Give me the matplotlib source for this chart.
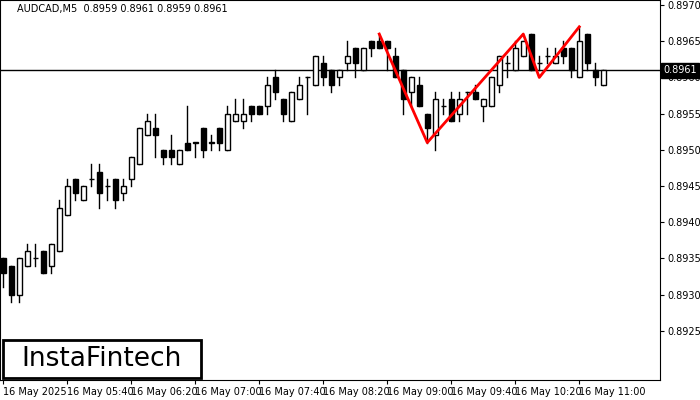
import matplotlib
matplotlib.use("Agg")
import matplotlib.pyplot as plt
from matplotlib.patches import Rectangle

# AUDCAD M5 candles, 16 May 2025 05:00 .. 11:15
opens = [.8935, .8934, .8930, .8934, .8935, .8936, .8934, .8936, .8941, .8946,
         .8943, .8946, .8947, .8945, .8946, .8944, .8946, .8948, .8952, .8953,
         .8950, .8950, .8948, .8951, .8951, .8953, .8951, .8953, .8950, .8954,
         .8954, .8956, .8956, .8956, .8960, .8957, .8954, .8957, .8960, .8959,
         .8962, .8961, .8960, .8962, .8964, .8961, .8965, .8965, .8965, .8963,
         .8961, .8958, .8959, .8955, .8952, .8956, .8957, .8955, .8958, .8958,
         .8956, .8956, .8959, .8962, .8961, .8963, .8966, .8962, .8963, .8962,
         .8964, .8964, .8960, .8966, .8961, .8959]
highs = [.8935, .8934, .8935, .8937, .8937, .8936, .8937, .8943, .8946, .8946,
         .8945, .8948, .8948, .8946, .8946, .8946, .8949, .8953, .8955, .8955,
         .8950, .8952, .8950, .8956, .8951, .8953, .8952, .8953, .8956, .8957,
         .8957, .8956, .8956, .8960, .8961, .8957, .8958, .8960, .8960, .8963,
         .8963, .8961, .8961, .8965, .8964, .8964, .8965, .8966, .8965, .8964,
         .8961, .8960, .8960, .8955, .8958, .8957, .8958, .8958, .8958, .8959,
         .8957, .8960, .8963, .8963, .8965, .8965, .8966, .8963, .8964, .8964,
         .8965, .8964, .8967, .8966, .8962, .8961]
lows = [.8931, .8929, .8929, .8934, .8934, .8933, .8933, .8936, .8941, .8943,
        .8943, .8945, .8942, .8943, .8942, .8943, .8945, .8948, .8952, .8949,
        .8948, .8948, .8948, .8950, .8949, .8949, .8950, .8950, .8950, .8954,
        .8953, .8954, .8955, .8955, .8957, .8954, .8954, .8957, .8955, .8959,
        .8959, .8958, .8959, .8961, .8960, .8961, .8963, .8964, .8961, .8960,
        .8955, .8956, .8956, .8951, .8950, .8955, .8954, .8954, .8955, .8957,
        .8954, .8956, .8958, .8960, .8961, .8963, .8961, .8961, .8962, .8962,
        .8962, .8960, .8960, .8961, .8959, .8959]
closes = [.8933, .8930, .8935, .8936, .8935, .8933, .8937, .8942, .8945, .8944,
          .8945, .8946, .8944, .8945, .8943, .8945, .8949, .8953, .8954, .8952,
          .8949, .8949, .8950, .8950, .8951, .8950, .8951, .8951, .8955, .8955,
          .8955, .8955, .8955, .8959, .8958, .8955, .8958, .8959, .8960, .8963,
          .8960, .8959, .8961, .8963, .8962, .8964, .8964, .8964, .8964, .8960,
          .8957, .8960, .8956, .8953, .8957, .8956, .8954, .8957, .8958, .8957,
          .8957, .8960, .8963, .8962, .8964, .8965, .8961, .8962, .8963, .8963,
          .8963, .8961, .8965, .8962, .8960, .8961]

# pattern line (bar index, price)
pattern_idx = [47, 53, 65, 67, 72]
pattern_px = [.8966, .8951, .8966, .8960, .8967]

tick_idx = [0, 8, 16, 24, 32, 40, 48, 56, 64, 72]
tick_labels = ["16 May 2025", "16 May 05:40", "16 May 06:20", "16 May 07:00",
               "16 May 07:40", "16 May 08:20", "16 May 09:00", "16 May 09:40",
               "16 May 10:20", "16 May 11:00"]
yticks = [.8925, .8930, .8935, .8940, .8945, .8950, .8955, .8960, .8965, .8970]
current = .8961

fig = plt.figure(figsize=(7, 4), dpi=100)
ax = fig.add_axes([0.0, 0.05, 0.943, 0.95])

w = 0.6
for i, (o, h, l, c) in enumerate(zip(opens, highs, lows, closes)):
    ax.plot([i, i], [l, h], color="black", lw=1, zorder=2)
    bottom = min(o, c)
    height = max(abs(c - o), 0.000003)
    face = "white" if c >= o else "black"
    ax.add_patch(Rectangle((i - w / 2, bottom), w, height, facecolor=face,
                           edgecolor="black", lw=1, zorder=3))

ax.axhline(current, color="black", lw=1, zorder=1)
ax.plot(pattern_idx, pattern_px, color="red", lw=2, zorder=4)

ax.set_xlim(-0.4, 82.1)
ax.set_ylim(0.89182, 0.89707)
ax.yaxis.tick_right()
ax.set_yticks(yticks)
ax.set_yticklabels([f"{v:.4f}" for v in yticks], fontsize=7)
ax.set_xticks(tick_idx)
ax.set_xticklabels(tick_labels, fontsize=7, ha="left")
ax.tick_params(axis="x", length=3, pad=2)
ax.tick_params(axis="y", length=3, pad=2)
for s in ax.spines.values():
    s.set_color("black")

ax.text(1.005, current, f"{current:.4f}", transform=ax.get_yaxis_transform(),
        fontsize=7, color="white", va="center", ha="left",
        bbox=dict(boxstyle="square,pad=0.25", facecolor="black", edgecolor="black"))

ax.text(0.025, 0.99, "AUDCAD,M5  0.8959 0.8961 0.8959 0.8961", transform=ax.transAxes,
        fontsize=7, va="top", ha="left")

fig.patches.append(Rectangle((3 / 700, 22 / 400), 198 / 700, 38 / 400, transform=fig.transFigure,
                             facecolor="white", edgecolor="black", lw=2, zorder=10))
fig.text(102 / 700, 41 / 400, "InstaFintech", fontsize=19, ha="center", va="center",
         zorder=11, family="DejaVu Sans")

fig.savefig("out.png", dpi=100)
